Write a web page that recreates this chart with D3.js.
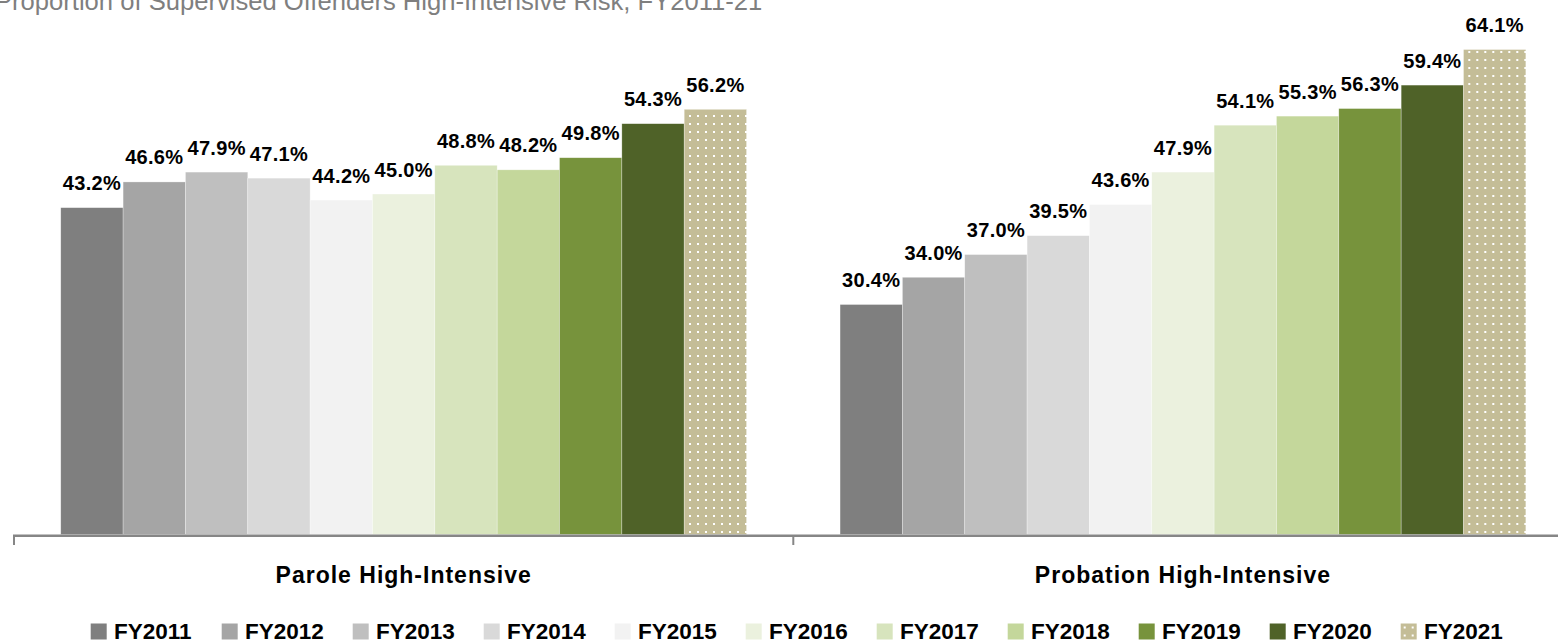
<html>
<head>
  <style>
    body { margin: 0; background: #fff; }
    text { font-family: "Liberation Sans", Arial, sans-serif; }
  </style>
</head>
<body>
  <svg width="1558" height="643"></svg>
  <script src="https://d3js.org/d3.v7.min.js"></script>
  <script>

  var groups = ["Parole High-Intensive", "Probation High-Intensive"];
  var years = ["FY2011", "FY2012", "FY2013", "FY2014", "FY2015", "FY2016",
               "FY2017", "FY2018", "FY2019", "FY2020", "FY2021"];
  var parole = [43.2, 46.6, 47.9, 47.1, 44.2, 45.0, 48.8, 48.2, 49.8, 54.3, 56.2];
  var probation = [30.4, 34.0, 37.0, 39.5, 43.6, 47.9, 54.1, 55.3, 56.3, 59.4, 64.1];
  var colors = ["#7f7f7f", "#a5a5a5", "#bfbfbf", "#d9d9d9", "#f2f2f2", "#ebf1de",
                "#d7e4bd", "#c4d79b", "#77933c", "#4f6228", "url(#dots)"];

  var values = [parole, probation];

  var svg = d3.select("svg");

  // dotted fill for the last year
  var pat = svg.append("defs").append("pattern")
    .attr("id", "dots")
    .attr("patternUnits", "userSpaceOnUse")
    .attr("width", 8).attr("height", 8);
  pat.append("rect").attr("width", 8).attr("height", 8).attr("fill", "#c4bd97");
  pat.append("rect").attr("x", 3).attr("y", 3).attr("width", 2).attr("height", 2).attr("fill", "#fff");

  var X0 = d3.scaleBand().domain(groups).range([14, 1572.6]);
  var bw = X0.bandwidth();
  var X1 = d3.scaleBand().domain(years).range([bw * 0.06, bw * 0.94]);
  var Y = d3.scaleLinear().domain([0, 70]).range([534.5, 4.9]);

  // title, its top is clipped by the frame like in the source
  svg.append("text")
    .attr("x", -5).attr("y", 9.5)
    .style("font-size", "25.6px")
    .style("fill", "#7f7f7f")
    .text("Proportion of Supervised Offenders High-Intensive Risk, FY2011-21");

  var g = svg.selectAll(".grp")
    .data(groups)
    .enter()
    .append("g")
    .attr("class", "grp")
    .attr("transform", function(d) { return "translate(" + X0(d) + ",0)"; });

  g.selectAll("rect")
    .data(function(d, i) { return values[i].map(function(v, j) { return {year: years[j], v: v, c: colors[j]}; }); })
    .enter()
    .append("rect")
    .attr("x", function(d) { return X1(d.year); })
    .attr("y", function(d) { return Y(d.v); })
    .attr("width", X1.bandwidth())
    .attr("height", function(d) { return Y(0) - Y(d.v); })
    .style("fill", function(d) { return d.c; })
    .style("stroke", "#ffffff")
    .style("stroke-opacity", 0.5)
    .style("stroke-width", 0.6);

  g.selectAll(".lbl")
    .data(function(d, i) { return values[i].map(function(v, j) { return {year: years[j], v: v}; }); })
    .enter()
    .append("text")
    .attr("class", "lbl")
    .attr("x", function(d) { return X1(d.year) + X1.bandwidth() / 2; })
    .attr("y", function(d) { return Y(d.v) - 17.5; })
    .attr("text-anchor", "middle")
    .style("font-size", "20px")
    .style("font-weight", "bold")
    .style("letter-spacing", "0.3px")
    .text(function(d) { return d.v.toFixed(1) + "%"; });

  // category axis
  svg.append("line")
    .attr("x1", 13).attr("x2", 1572)
    .attr("y1", 535.7).attr("y2", 535.7)
    .style("stroke", "#868686").style("stroke-width", 2.5);

  var bounds = [X0.range()[0]].concat(groups.map(function(d) { return X0(d) + bw; }));
  svg.selectAll(".tick")
    .data(bounds)
    .enter()
    .append("line")
    .attr("x1", function(d) { return d; }).attr("x2", function(d) { return d; })
    .attr("y1", 535.7).attr("y2", 545)
    .style("stroke", "#868686").style("stroke-width", 2);

  svg.selectAll(".cat")
    .data(groups)
    .enter()
    .append("text")
    .attr("x", function(d) { return X0(d) + bw / 2; })
    .attr("y", 582.7)
    .attr("text-anchor", "middle")
    .style("font-size", "23px")
    .style("font-weight", "bold")
    .style("letter-spacing", "1px")
    .text(function(d) { return d; });

  // legend
  var leg = svg.selectAll(".leg")
    .data(years)
    .enter()
    .append("g")
    .attr("transform", function(d, i) { return "translate(" + (90.7 + i * 131) + ",623.5)"; });

  leg.append("rect")
    .attr("width", 16).attr("height", 16)
    .style("fill", function(d, i) { return colors[i]; });

  leg.append("text")
    .attr("x", 23.3).attr("y", 15)
    .style("font-size", "22.5px")
    .style("font-weight", "bold")
    .text(function(d) { return d; });

  </script>
</body>
</html>
